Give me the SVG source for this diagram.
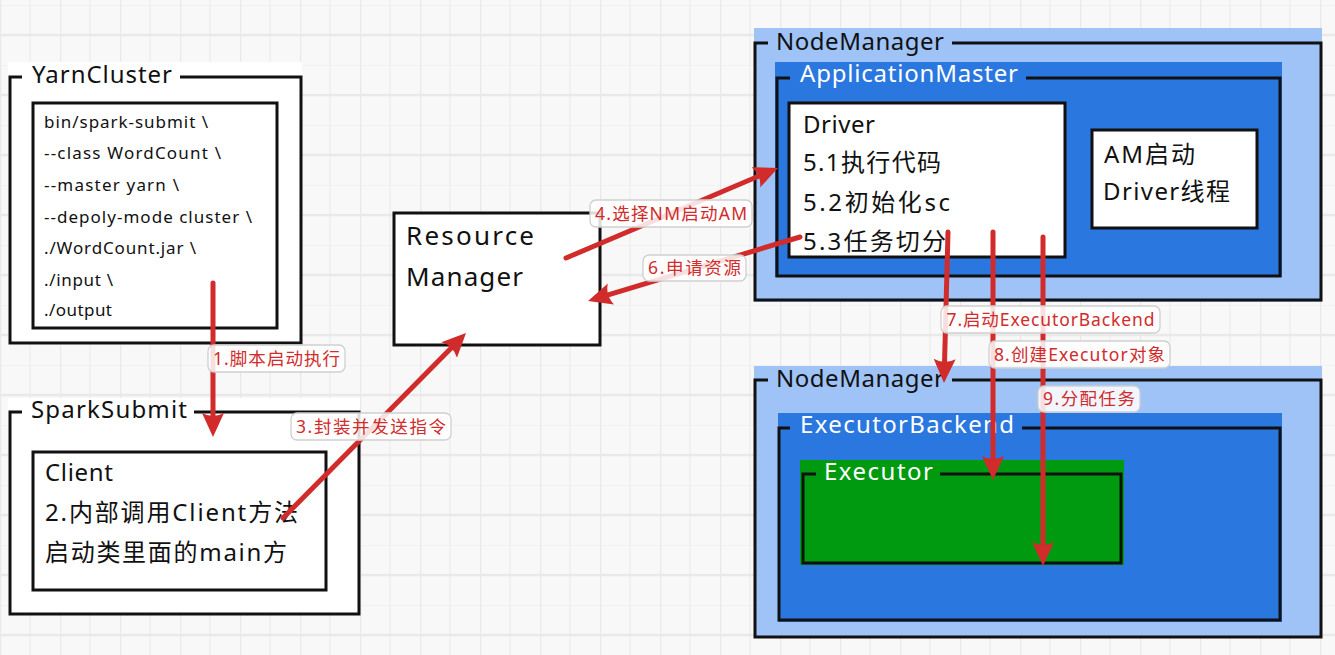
<svg xmlns="http://www.w3.org/2000/svg" width="1335" height="655" viewBox="0 0 1335 655">
<defs>
<pattern id="grid" width="60" height="60" patternUnits="userSpaceOnUse" x="0" y="5">
<rect width="60" height="60" fill="#f8f8f8"/>
<path d="M30,0 V60 M0,0 H60" stroke="#efefef" stroke-width="1.5" fill="none"/>
<path d="M0,0 V60 M0,30 H60" stroke="#e9e9e9" stroke-width="2.5" fill="none"/>
</pattern>
<marker id="ah" viewBox="0 0 24 24" refX="16" refY="12" markerWidth="24" markerHeight="24" markerUnits="userSpaceOnUse" orient="auto">
<path d="M0,1 L24,12 L0,23 Q6,12 0,1 Z" fill="#d12b2b"/>
</marker>
<style>
text{font-family:"Noto Sans","Noto Sans CJK SC",sans-serif;}
.frame{fill:none;stroke:#111;stroke-width:3;}
.box{fill:#fff;stroke:#111;stroke-width:3;}
.title{font-size:24px;fill:#111;}
.wtitle{font-size:24px;fill:#fff;}
.code{font-size:17px;fill:#111;}
.big{font-size:24px;fill:#111;}
.arrow{stroke:#d12b2b;stroke-width:5;fill:none;stroke-linecap:round;marker-end:url(#ah);}
.lbl rect{fill:#fff;fill-opacity:0.85;stroke:#cfcfcf;stroke-width:1.3;}
.lbl text{font-size:17.5px;fill:#d12b2b;text-anchor:middle;}
</style>
</defs>
<rect width="1335" height="655" fill="url(#grid)"/>

<g id="yarncluster">
<rect x="8" y="62" width="294" height="283" fill="#fff"/>
<rect class="frame" x="10" y="77" width="291" height="266"/>
<rect x="22" y="62" width="158" height="28" fill="#fff"/>
<text class="title" x="32" y="83" textLength="140" lengthAdjust="spacing">YarnCluster</text>
<rect class="box" x="33" y="103" width="244" height="225"/>
<text class="code" x="44" y="128" textLength="164" lengthAdjust="spacing">bin/spark-submit \</text>
<text class="code" x="44" y="159" textLength="177" lengthAdjust="spacing">--class WordCount \</text>
<text class="code" x="44" y="191" textLength="135" lengthAdjust="spacing">--master yarn \</text>
<text class="code" x="44" y="223" textLength="208" lengthAdjust="spacing">--depoly-mode cluster \</text>
<text class="code" x="44" y="254" textLength="152" lengthAdjust="spacing">./WordCount.jar \</text>
<text class="code" x="44" y="286" textLength="69" lengthAdjust="spacing">./input \</text>
<text class="code" x="44" y="316" textLength="68" lengthAdjust="spacing">./output</text>
</g>

<g id="sparksubmit">
<rect x="8" y="398" width="352" height="217" fill="#fff"/>
<rect class="frame" x="10" y="412" width="349" height="202"/>
<rect x="22" y="398" width="172" height="28" fill="#fff"/>
<text class="title" x="31" y="418" textLength="156" lengthAdjust="spacing">SparkSubmit</text>
<rect class="box" x="33" y="452" width="293" height="138"/>
<text class="big" x="45" y="481" textLength="68" lengthAdjust="spacing">Client</text>
<text class="big" x="45" y="521" textLength="253" lengthAdjust="spacing">2.内部调用Client方法</text>
<text class="big" x="45" y="561" textLength="242" lengthAdjust="spacing">启动类里面的main方</text>
</g>

<g id="resourcemanager">
<rect class="box" x="394" y="213" width="206" height="132"/>
<text class="big" x="406" y="245" style="font-size:26px" textLength="128" lengthAdjust="spacing">Resource</text>
<text class="big" x="406" y="286" style="font-size:26px" textLength="117" lengthAdjust="spacing">Manager</text>
</g>

<g id="nodemanager1">
<rect x="754" y="28" width="568" height="274" fill="#9fc3f6"/>
<rect class="frame" x="755" y="43" width="566" height="257"/>
<rect x="768" y="28" width="184" height="26" fill="#9fc3f6"/>
<text class="title" x="776" y="50" textLength="168" lengthAdjust="spacing">NodeManager</text>
</g>

<g id="applicationmaster">
<rect x="775" y="62" width="507" height="215" fill="#2b77e0"/>
<rect class="frame" x="777" y="78" width="503" height="198"/>
<rect x="790" y="62" width="236" height="26" fill="#2b77e0"/>
<text class="wtitle" x="800" y="82" textLength="218" lengthAdjust="spacing">ApplicationMaster</text>
</g>

<g id="driver">
<rect class="box" x="789" y="103" width="276" height="154"/>
<text class="big" x="803" y="133" textLength="72" lengthAdjust="spacing">Driver</text>
<text class="big" x="803" y="171" textLength="138" lengthAdjust="spacing">5.1执行代码</text>
<text class="big" x="803" y="211" textLength="147" lengthAdjust="spacing">5.2初始化sc</text>
<text class="big" x="803" y="250" textLength="143" lengthAdjust="spacing">5.3任务切分</text>
</g>

<g id="amthread">
<rect class="box" x="1092" y="130" width="165" height="98"/>
<text class="big" x="1104" y="163" textLength="91" lengthAdjust="spacing">AM启动</text>
<text class="big" x="1103" y="200" textLength="127" lengthAdjust="spacing">Driver线程</text>
</g>

<g id="nodemanager2">
<rect x="754" y="366" width="568" height="272" fill="#9fc3f6"/>
<rect class="frame" x="755" y="380" width="566" height="257"/>
<rect x="768" y="366" width="184" height="26" fill="#9fc3f6"/>
<text class="title" x="776" y="387" textLength="168" lengthAdjust="spacing">NodeManager</text>
</g>

<g id="executorbackend">
<rect x="778" y="413" width="504" height="209" fill="#2b77e0"/>
<rect class="frame" x="779" y="428" width="501" height="192"/>
<rect x="790" y="413" width="232" height="26" fill="#2b77e0"/>
<text class="wtitle" x="800" y="433" textLength="214" lengthAdjust="spacing">ExecutorBackend</text>
</g>

<g id="executor">
<rect x="800" y="460" width="324" height="105" fill="#009a10"/>
<rect class="frame" x="803" y="474" width="318" height="89"/>
<rect x="816" y="460" width="124" height="24" fill="#009a10"/>
<text class="wtitle" x="824" y="480" textLength="109" lengthAdjust="spacing">Executor</text>
</g>

<g id="connectors">
<path class="arrow" d="M213,283 L213,429"/>
<path class="arrow" d="M283,518 L460.4,338.7"/>
<path class="arrow" d="M566,258 L770.6,171.1"/>
<path class="arrow" d="M800,237 L595.7,298.7"/>
<path class="arrow" d="M948,232 L944.2,375"/>
<path class="arrow" d="M993,232 L993,472"/>
<path class="arrow" d="M1043,237 L1043,558"/>
<g class="lbl">
<rect x="208" y="345" width="137" height="27" rx="6"/>
<text x="276.5" y="364.5" textLength="127" lengthAdjust="spacing">1.脚本启动执行</text>
<rect x="291" y="413" width="160" height="27" rx="6"/>
<text x="371" y="432.5" textLength="150" lengthAdjust="spacing">3.封装并发送指令</text>
<rect x="590" y="200" width="162" height="27" rx="6"/>
<text x="671" y="219.5" textLength="152" lengthAdjust="spacing">4.选择NM启动AM</text>
<rect x="643" y="255" width="103" height="26" rx="6"/>
<text x="694.5" y="274" textLength="93" lengthAdjust="spacing">6.申请资源</text>
<rect x="941" y="306" width="219" height="27" rx="6"/>
<text x="1050.5" y="325.5" textLength="208" lengthAdjust="spacing">7.启动ExecutorBackend</text>
<rect x="989" y="341" width="181" height="27" rx="6"/>
<text x="1079.5" y="360.5" textLength="171" lengthAdjust="spacing">8.创建Executor对象</text>
<rect x="1038" y="386" width="102" height="26" rx="6"/>
<text x="1089" y="405" textLength="92" lengthAdjust="spacing">9.分配任务</text>
</g>
</g>
</svg>
